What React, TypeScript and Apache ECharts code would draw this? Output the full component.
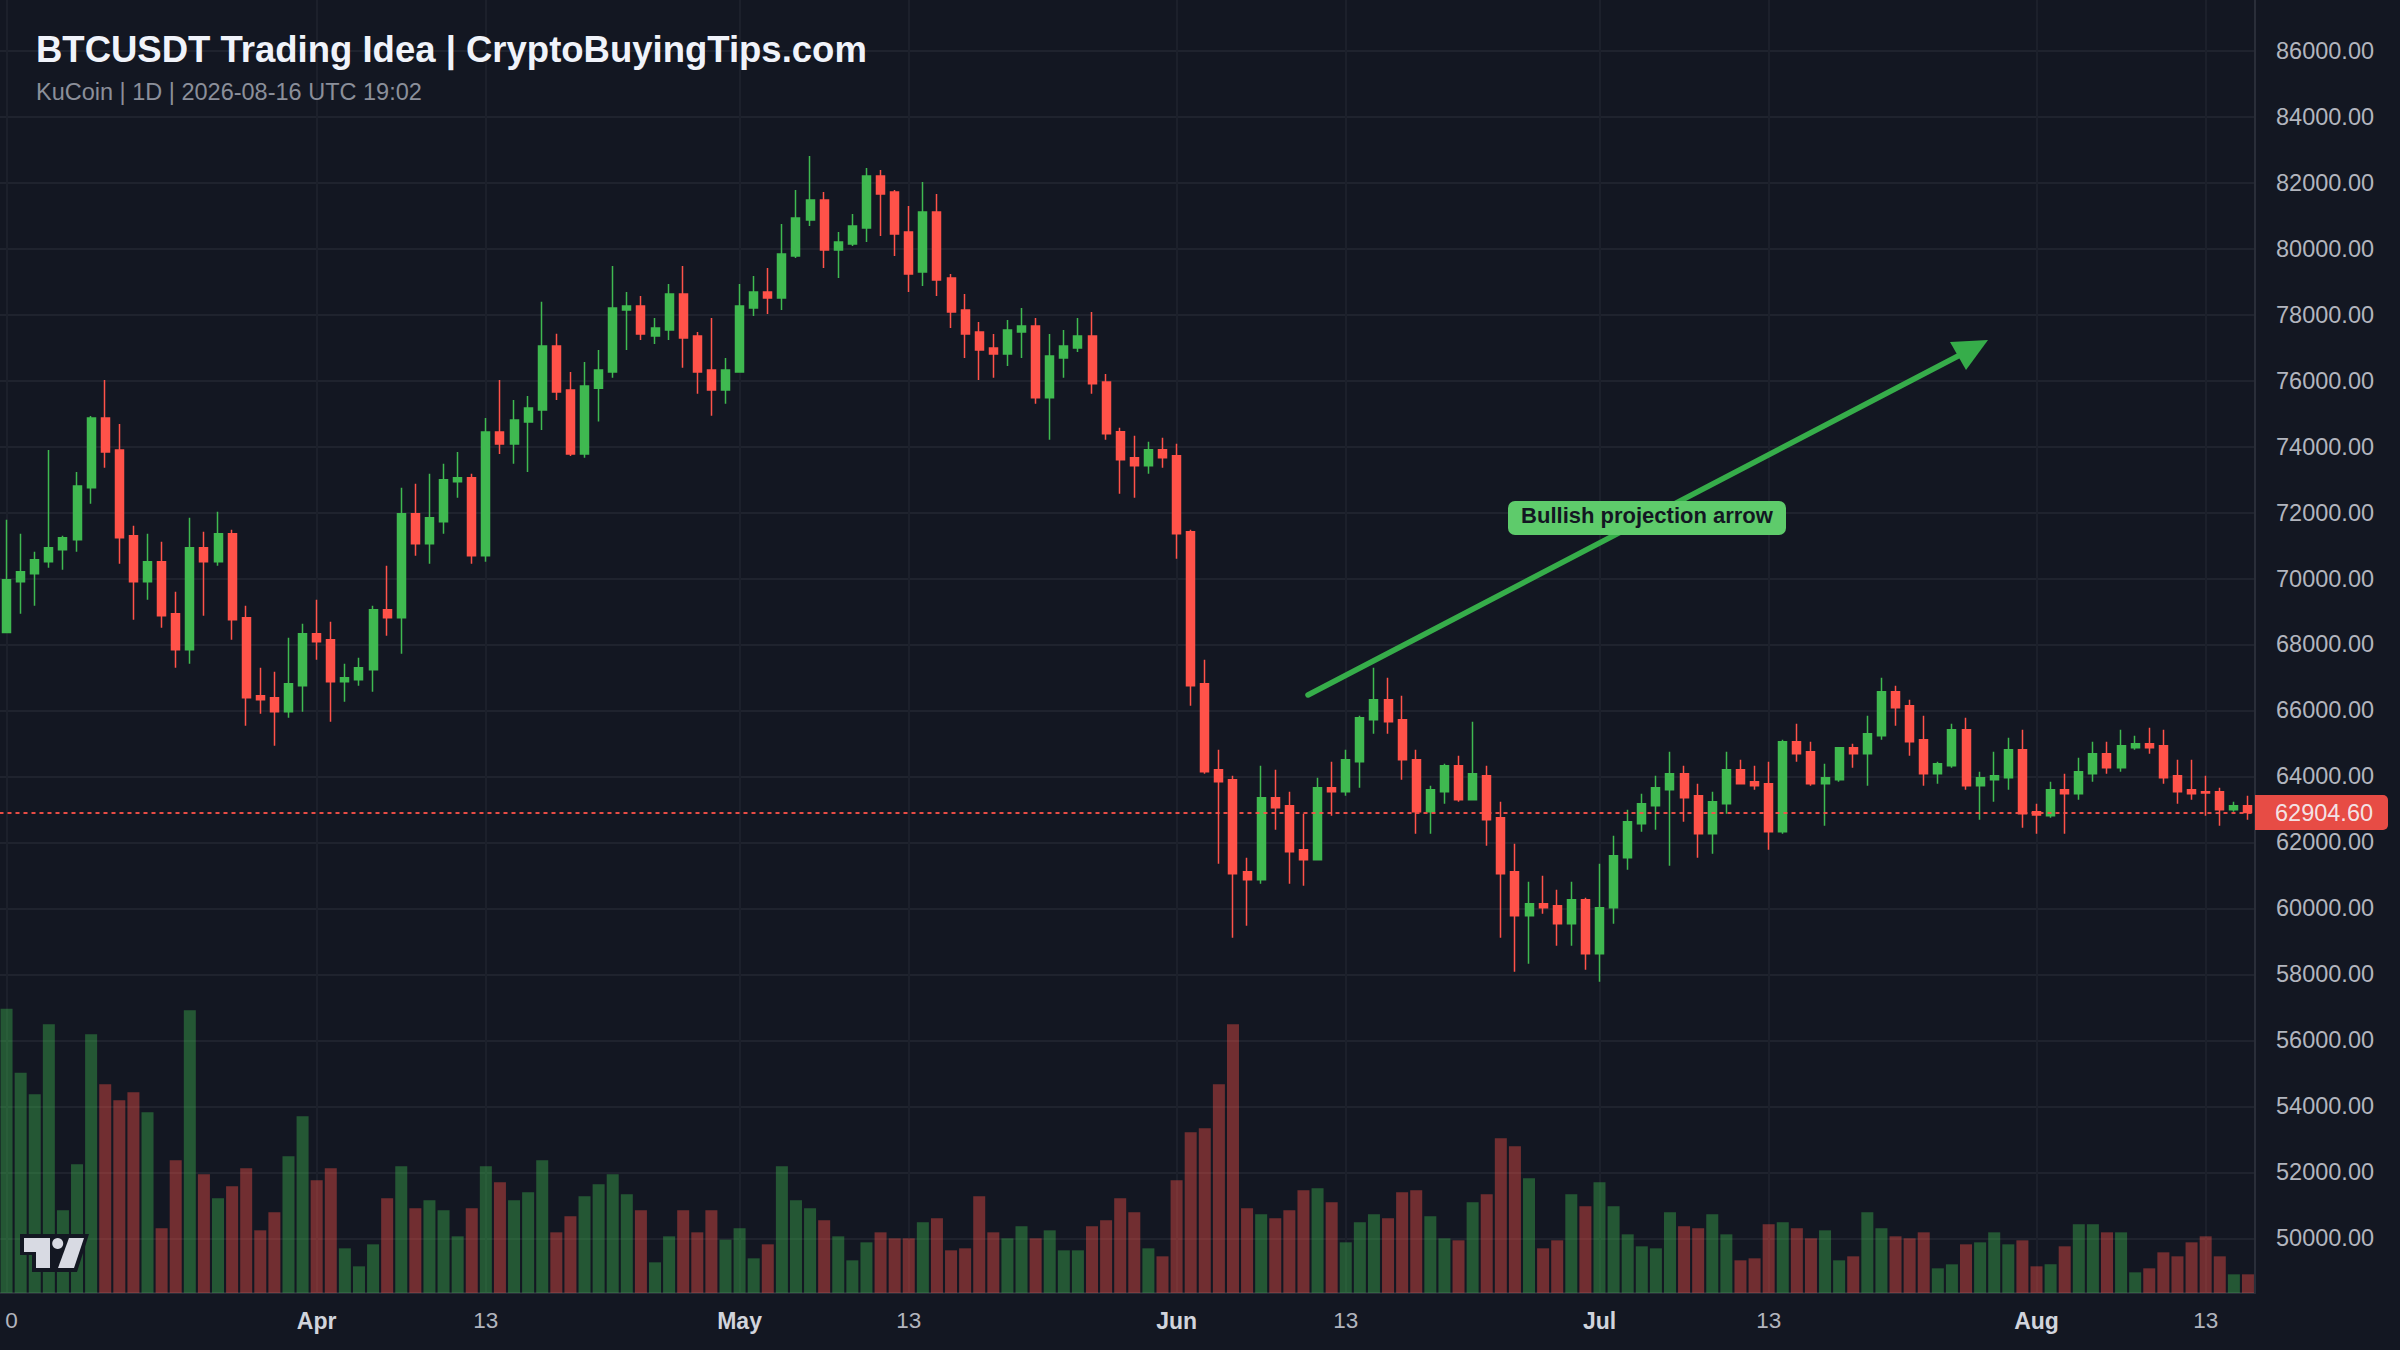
import { useEffect, useRef } from 'react';
import * as echarts from 'echarts';

const UP = '#3fb950';
const DOWN = '#ff5249';
const BG = '#131722';
const FONT = '"Liberation Sans", Arial, sans-serif';

const opens = [
  68364, 69900, 70142, 70505, 70869, 71172, 72748, 74869, 73899, 71293,
  69900, 70505, 68930, 67839, 70930, 70505, 71354, 68809, 66445, 66385,
  65960, 66748, 68324, 68142, 66869, 66930, 67233, 69051, 68809, 71960,
  71051, 71717, 72930, 73051, 70687, 74444, 74081, 74747, 75111, 77050,
  75717, 73778, 75768, 76263, 78142, 78263, 77354, 77536, 78627, 77354,
  76324, 75718, 76263, 78203, 78687, 78506, 79778, 80869, 81475, 79960,
  80142, 80627, 82202, 81717, 80505, 79294, 81111, 79112, 78142, 77475,
  76991, 76809, 77475, 77657, 75476, 76688, 76991, 77354, 75960, 74445,
  73658, 73415, 73900, 73718, 71415, 66808, 64202, 63899, 61111, 60869,
  63354, 63111, 61778, 61475, 63657, 63535, 64444, 65717, 66323, 65717,
  64505, 62929, 63535, 64323, 63293, 64020, 62748, 61111, 59778, 60142,
  60081, 59536, 60263, 58627, 60021, 61536, 62566, 63111, 63596, 64081,
  63414, 62263, 63172, 64202, 63838, 63778, 62323, 65050, 64747, 63778,
  63899, 64869, 64687, 65232, 66565, 66141, 65111, 64081, 64323, 65414,
  63717, 63899, 63960, 64808, 62929, 62808, 63596, 63475, 64081, 64687,
  64263, 64869, 64990, 64929, 64020, 63596, 63535, 63535, 62990, 63111,
];

const closes = [
  69960, 70202, 70566, 70930, 71233, 72808, 74869, 73838, 71233, 69900,
  70505, 68869, 67839, 70930, 70505, 71354, 68748, 66385, 66324, 65960,
  66809, 68324, 68081, 66869, 66991, 67294, 69051, 68809, 71960, 71051,
  71839, 72990, 73051, 70687, 74444, 74081, 74808, 75172, 77050, 75656,
  73778, 75838, 76324, 78203, 78263, 77415, 77597, 78627, 77294, 76263,
  75718, 76324, 78263, 78687, 78506, 79839, 80930, 81475, 79960, 80202,
  80687, 82202, 81657, 80445, 79233, 81111, 79051, 78081, 77415, 76930,
  76809, 77536, 77657, 75476, 76748, 77051, 77354, 75900, 74385, 73597,
  73415, 73900, 73658, 71355, 66747, 64141, 63838, 61051, 60869, 63354,
  63051, 61717, 61475, 63657, 63535, 64505, 65778, 66323, 65656, 64505,
  62929, 63596, 64323, 63293, 64081, 62687, 61051, 59778, 60142, 60021,
  59536, 60263, 58627, 60021, 61596, 62626, 63172, 63657, 64081, 63354,
  62263, 63232, 64202, 63778, 63717, 62323, 65050, 64687, 63778, 63960,
  64869, 64687, 65293, 66565, 66081, 65050, 64081, 64384, 65414, 63717,
  63960, 64020, 64808, 62869, 62829, 63596, 63475, 64141, 64687, 64263,
  64929, 64990, 64869, 63960, 63535, 63475, 63495, 62990, 63111, 62904.6,
];

const lows = [
  68344, 68930, 69172, 70324, 70263, 70808, 72263, 73354, 70445, 68748,
  69354, 68506, 67294, 67415, 68869, 70384, 68142, 65536, 65900, 64930,
  65779, 65960, 67536, 65657, 66263, 66748, 66566, 68263, 67718, 70687,
  70445, 71354, 72445, 70445, 70505, 73778, 73475, 73232, 74505, 75414,
  73717, 73657, 74758, 76082, 76930, 77233, 77112, 77233, 76385, 75597,
  74930, 75294, 76263, 77960, 78021, 78142, 79718, 80687, 79415, 79112,
  80081, 80202, 80384, 79778, 78687, 78869, 78566, 77597, 76688, 76021,
  76082, 76445, 76688, 75294, 74203, 76082, 76869, 75597, 74203, 72567,
  72446, 73173, 73354, 70598, 66141, 64081, 61354, 59112, 59475, 60748,
  62384, 60748, 60687, 61475, 62808, 63414, 63657, 65293, 65293, 63899,
  62263, 62263, 63172, 63232, 63293, 61899, 59112, 58081, 58324, 59839,
  58869, 58869, 58142, 57778, 59536, 61172, 62323, 62384, 61293, 62626,
  61536, 61657, 62869, 63778, 63596, 61778, 62263, 64444, 63717, 62505,
  63838, 64263, 63717, 65111, 65535, 64626, 63717, 63778, 64263, 63596,
  62687, 63232, 63596, 62445, 62263, 62748, 62263, 63293, 63838, 64081,
  64141, 64808, 64687, 63778, 63172, 63293, 62808, 62505, 62929, 62687,
];

const highs = [
  71778, 71354, 70808, 73899, 71293, 73232, 74929, 76020, 74687, 71596,
  71354, 71111, 69596, 71839, 71414, 72020, 71475, 69172, 67294, 67172,
  68203, 68627, 69354, 68687, 67415, 67597, 69172, 70384, 72748, 72869,
  73172, 73475, 73838, 73172, 74869, 76020, 75414, 75535, 78386, 77416,
  76262, 76565, 76930, 79475, 78687, 78566, 77900, 78930, 79475, 77475,
  77900, 76688, 78930, 79172, 79415, 80748, 81778, 82808, 81717, 80505,
  81051, 82445, 82384, 81778, 81293, 82020, 81657, 79233, 78627, 77778,
  77415, 77839, 78203, 77900, 77415, 77536, 77900, 78081, 76203, 74567,
  74324, 74142, 74264, 74082, 71480, 67535, 64808, 64020, 61536, 64323,
  64202, 63535, 62869, 63960, 64444, 64808, 65838, 67293, 66990, 66444,
  64808, 63717, 64384, 64626, 65656, 64323, 63232, 61960, 60808, 60990,
  60566, 60808, 60324, 61354, 62202, 62990, 63475, 64020, 64747, 64323,
  63778, 63536, 64747, 64505, 64323, 64444, 65111, 65596, 65050, 64384,
  64869, 64990, 65838, 66990, 66747, 66323, 65838, 64444, 65596, 65778,
  64141, 64747, 65172, 65414, 63172, 63838, 64081, 64566, 65050, 65050,
  65414, 65232, 65475, 65414, 64505, 64505, 64020, 63657, 63232, 63414,
];

const volumes = [
  853, 661, 596, 806, 248, 386, 776, 626, 578, 602,
  542, 194, 398, 848, 356, 284, 320, 374, 188, 242,
  410, 530, 338, 374, 134, 80, 146, 284, 380, 254,
  278, 248, 170, 254, 380, 332, 278, 302, 398, 182,
  230, 290, 326, 356, 296, 248, 92, 170, 248, 182,
  248, 160, 194, 104, 146, 380, 278, 254, 218, 170,
  98, 152, 182, 164, 164, 212, 224, 128, 134, 290,
  182, 164, 200, 164, 188, 128, 128, 200, 218, 284,
  242, 134, 110, 338, 482, 494, 626, 806, 254, 236,
  224, 248, 308, 314, 272, 152, 212, 236, 224, 302,
  308, 230, 164, 158, 272, 296, 464, 440, 344, 134,
  158, 296, 260, 332, 260, 176, 140, 134, 242, 200,
  194, 236, 176, 98, 104, 206, 212, 194, 164, 188,
  98, 110, 242, 194, 170, 164, 182, 74, 86, 146,
  152, 182, 146, 158, 80, 86, 140, 206, 206, 182,
  182, 62, 74, 122, 110, 152, 170, 110, 56, 56,
];

// candle index -> label on the time axis ("10" shows only as its last digit at the page edge)
const timeLabels: Record<number, string> = {
  0: '0', 22: 'Apr', 34: '13', 52: 'May', 64: '13', 83: 'Jun',
  95: '13', 113: 'Jul', 125: '13', 144: 'Aug', 156: '13',
};

const categories = opens.map((_, i) => String(i));
const lastPrice = 62904.6;

export default function App() {
  const chartRef = useRef<HTMLDivElement>(null);

  useEffect(() => {
    document.body.style.margin = '0';
    document.body.style.background = BG;
    if (!chartRef.current) return;
    const chart = echarts.init(chartRef.current, null, { renderer: 'svg' });

    const showTick = (index: number) => timeLabels[index] !== undefined;

    chart.setOption({
      animation: false,
      backgroundColor: BG,
      title: [
        {
          text: 'BTCUSDT Trading Idea | CryptoBuyingTips.com',
          left: 31,
          top: 26,
          textStyle: { color: '#f0f3fa', fontFamily: FONT, fontSize: 36.5, fontWeight: 'bold' },
        },
        {
          text: 'KuCoin | 1D | 2026-08-16 UTC 19:02',
          left: 31,
          top: 74.5,
          textStyle: { color: '#8b8f9a', fontFamily: FONT, fontSize: 23.5, fontWeight: 'normal' },
        },
      ],
      grid: [
        // price pane: 50000 sits at y=1238, 88000 just above the page
        { left: -0.5, right: 145, top: -15.3, bottom: 111.7, outerBoundsMode: 'none' },
        // volume pane runs full height and carries the time axis
        { left: -0.5, right: 145, top: 0, bottom: 57, outerBoundsMode: 'none' },
      ],
      xAxis: [
        {
          type: 'category',
          gridIndex: 0,
          data: categories,
          axisLine: { show: false },
          axisTick: { show: false },
          axisLabel: { show: false },
          splitLine: { show: false },
        },
        {
          type: 'category',
          gridIndex: 1,
          data: categories,
          axisLine: { lineStyle: { color: '#2a2e39', width: 2 } },
          axisTick: { show: false },
          axisLabel: {
            interval: (index: number) => showTick(index),
            margin: 16,
            fontFamily: FONT,
            fontSize: 22.5,
            color: '#b2b5be',
            formatter: (_: string, index: number) => {
              const label = timeLabels[index] ?? '';
              if (index === 0) return `{edge|${label}}`;
              return /^[A-Z]/.test(label) ? `{month|${label}}` : label;
            },
            rich: {
              edge: { fontFamily: FONT, fontSize: 22.5, color: '#b2b5be', padding: [0, 0, 0, 10] },
              month: { fontFamily: FONT, fontSize: 23, fontWeight: 'bold', color: '#d1d4dc' },
            },
          },
          splitLine: {
            show: true,
            alignWithLabel: true,
            interval: (index: number) => showTick(index),
            lineStyle: { color: '#1c202b', width: 2 },
          },
        },
      ],
      yAxis: [
        {
          type: 'value',
          gridIndex: 0,
          position: 'right',
          min: 50000,
          max: 88000,
          interval: 2000,
          axisLine: { show: false },
          axisTick: { show: false },
          axisLabel: {
            margin: 21,
            fontFamily: FONT,
            fontSize: 23.5,
            color: '#b2b5be',
            // 88000 only exists to keep the ticks on the grid, it sits off the page
            formatter: (v: number) => (v >= 88000 ? '' : v.toFixed(2)),
          },
          splitLine: { lineStyle: { color: '#1f232e', width: 2 } },
        },
        {
          type: 'value',
          gridIndex: 1,
          position: 'right',
          min: 0,
          max: 3879,
          axisLine: { show: true, lineStyle: { color: '#2a2e39', width: 2 } },
          axisTick: { show: false },
          axisLabel: { show: false },
          splitLine: { show: false },
        },
      ],
      series: [
        {
          name: 'Volume',
          type: 'bar',
          xAxisIndex: 1,
          yAxisIndex: 1,
          barWidth: 12,
          z: 1,
          data: volumes.map((v, i) => ({
            value: v,
            itemStyle: { color: closes[i] >= opens[i] ? UP : DOWN, opacity: 0.4 },
          })),
        },
        {
          name: 'BTCUSDT',
          type: 'candlestick',
          xAxisIndex: 0,
          yAxisIndex: 0,
          barWidth: 8.5,
          z: 3,
          itemStyle: {
            color: UP,
            color0: DOWN,
            borderColor: UP,
            borderColor0: DOWN,
            borderWidth: 1.5,
          },
          data: opens.map((o, i) => [o, closes[i], lows[i], highs[i]]),
          markLine: {
            silent: true,
            symbol: 'none',
            lineStyle: { color: DOWN, type: [4, 4], width: 2, opacity: 0.9 },
            label: {
              position: 'end',
              distance: 0,
              formatter: lastPrice.toFixed(2),
              color: '#f5f7fb',
              fontFamily: FONT,
              fontSize: 23.5,
              backgroundColor: DOWN,
              padding: [6, 15, 5, 20],
              borderRadius: [0, 5, 5, 0],
            },
            data: [{ yAxis: lastPrice }],
          },
        },
      ],
      graphic: [
        // projection arrow
        {
          type: 'line',
          z: 10,
          shape: { x1: 1308, y1: 695, x2: 1960, y2: 355 },
          style: { stroke: '#36ad4a', lineWidth: 5.5, lineCap: 'round' },
        },
        {
          type: 'polygon',
          z: 10,
          shape: { points: [[1988, 340], [1966, 370], [1950, 342]] },
          style: { fill: '#36ad4a' },
        },
        // label
        {
          type: 'rect',
          z: 11,
          shape: { x: 1508, y: 501, width: 278, height: 34, r: 7 },
          style: { fill: '#5ecb6b' },
        },
        {
          type: 'text',
          z: 12,
          x: 1647,
          y: 515.5,
          style: {
            text: 'Bullish projection arrow',
            fill: BG,
            font: `bold 22px ${FONT}`,
            textAlign: 'center',
            textVerticalAlign: 'middle',
          },
        },
        // TradingView mark
        {
          type: 'polygon',
          z: 10,
          shape: { points: [[20, 1234], [89, 1234], [77, 1272], [32, 1272], [32, 1255], [20, 1255]] },
          style: { fill: BG },
        },
        {
          type: 'polygon',
          z: 11,
          shape: { points: [[24, 1238], [50, 1238], [50, 1268], [36, 1268], [36, 1252], [24, 1252]] },
          style: { fill: '#d8dae3' },
        },
        {
          type: 'circle',
          z: 11,
          shape: { cx: 57.7, cy: 1243.5, r: 5.5 },
          style: { fill: '#d8dae3' },
        },
        {
          type: 'polygon',
          z: 11,
          shape: { points: [[69, 1238], [84, 1238], [74, 1268], [58, 1268]] },
          style: { fill: '#d8dae3' },
        },
      ],
    });

    return () => chart.dispose();
  }, []);

  return <div ref={chartRef} style={{ position: 'fixed', left: 0, top: 0, width: 2400, height: 1350 }} />;
}
